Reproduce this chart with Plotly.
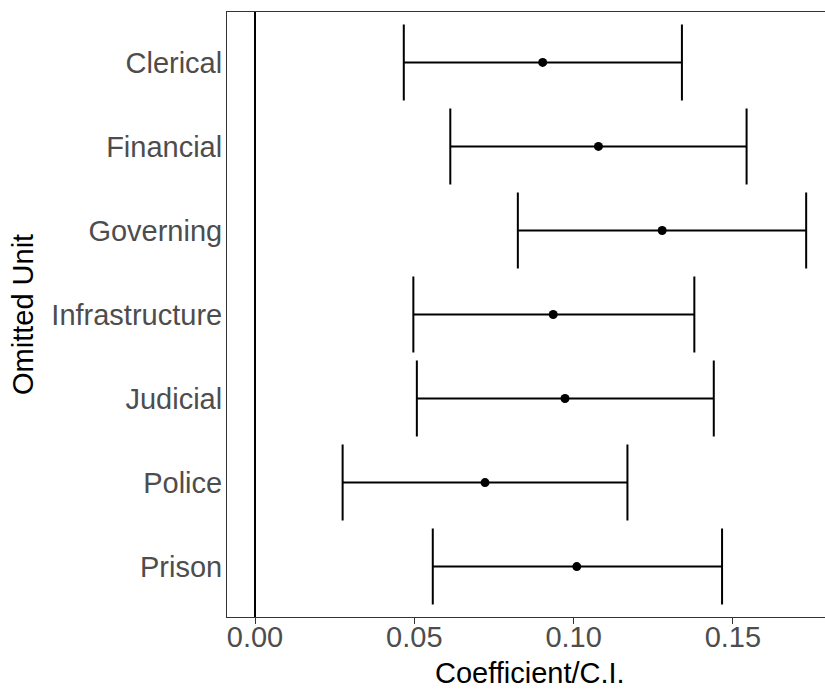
import plotly.graph_objects as go

# Coefficient estimates with confidence intervals, one row per omitted unit
units = ["Clerical", "Financial", "Governing", "Infrastructure", "Judicial", "Police", "Prison"]
coef = [0.0903, 0.1078, 0.1278, 0.0936, 0.0973, 0.0722, 0.1010]
ci_low = [0.0467, 0.0613, 0.0825, 0.0497, 0.0508, 0.0275, 0.0558]
ci_high = [0.1340, 0.1543, 0.1730, 0.1379, 0.1440, 0.1169, 0.1466]
x_ticks = [0.00, 0.05, 0.10, 0.15]
x_tick_text = ["0.00", "0.05", "0.10", "0.15"]

FONT = "Liberation Sans, Arial, sans-serif"

fig = go.Figure()

fig.add_trace(go.Scatter(
    x=coef,
    y=units,
    mode="markers",
    marker=dict(color="black", size=9),
    error_x=dict(
        type="data",
        symmetric=False,
        array=[h - c for h, c in zip(ci_high, coef)],
        arrayminus=[c - l for c, l in zip(coef, ci_low)],
        color="black",
        thickness=2,
        width=38,
    ),
    showlegend=False,
    hoverinfo="skip",
))

# reference line at zero
fig.add_shape(type="line", xref="x", yref="paper", x0=0, x1=0, y0=0, y1=1,
              line=dict(color="black", width=2), layer="above")

fig.update_layout(
    width=825,
    height=689,
    margin=dict(l=227, r=0, t=12, b=72),
    paper_bgcolor="white",
    plot_bgcolor="white",
    font=dict(family=FONT, size=29, color="#4D4D4D"),
    xaxis=dict(
        range=[-0.00879, 0.17891],
        tickvals=x_ticks,
        ticktext=x_tick_text,
        ticks="outside",
        ticklen=6,
        tickwidth=1,
        tickcolor="#333333",
        ticklabelstandoff=-12,
        showline=True,
        linecolor="#333333",
        linewidth=1,
        mirror=True,
        showgrid=False,
        zeroline=False,
        tickfont=dict(family=FONT, size=29, color="#4D4D4D"),
    ),
    yaxis=dict(
        categoryorder="array",
        categoryarray=units,
        range=[6.6, -0.6],
        ticks="",
        ticklabelstandoff=-2,
        showline=True,
        linecolor="#333333",
        linewidth=1,
        showgrid=False,
        zeroline=False,
        tickfont=dict(family=FONT, size=29, color="#4D4D4D"),
    ),
    annotations=[
        dict(text="Coefficient/C.I.", xref="paper", yref="paper",
             x=0.5064, y=-0.092, xanchor="center", yanchor="middle",
             showarrow=False, font=dict(family=FONT, size=29, color="black")),
        dict(text="Omitted Unit", xref="paper", yref="paper",
             x=-0.342, y=0.5, xanchor="center", yanchor="middle", textangle=-90,
             showarrow=False, font=dict(family=FONT, size=29, color="black")),
    ],
)

fig.write_html("out.html")
